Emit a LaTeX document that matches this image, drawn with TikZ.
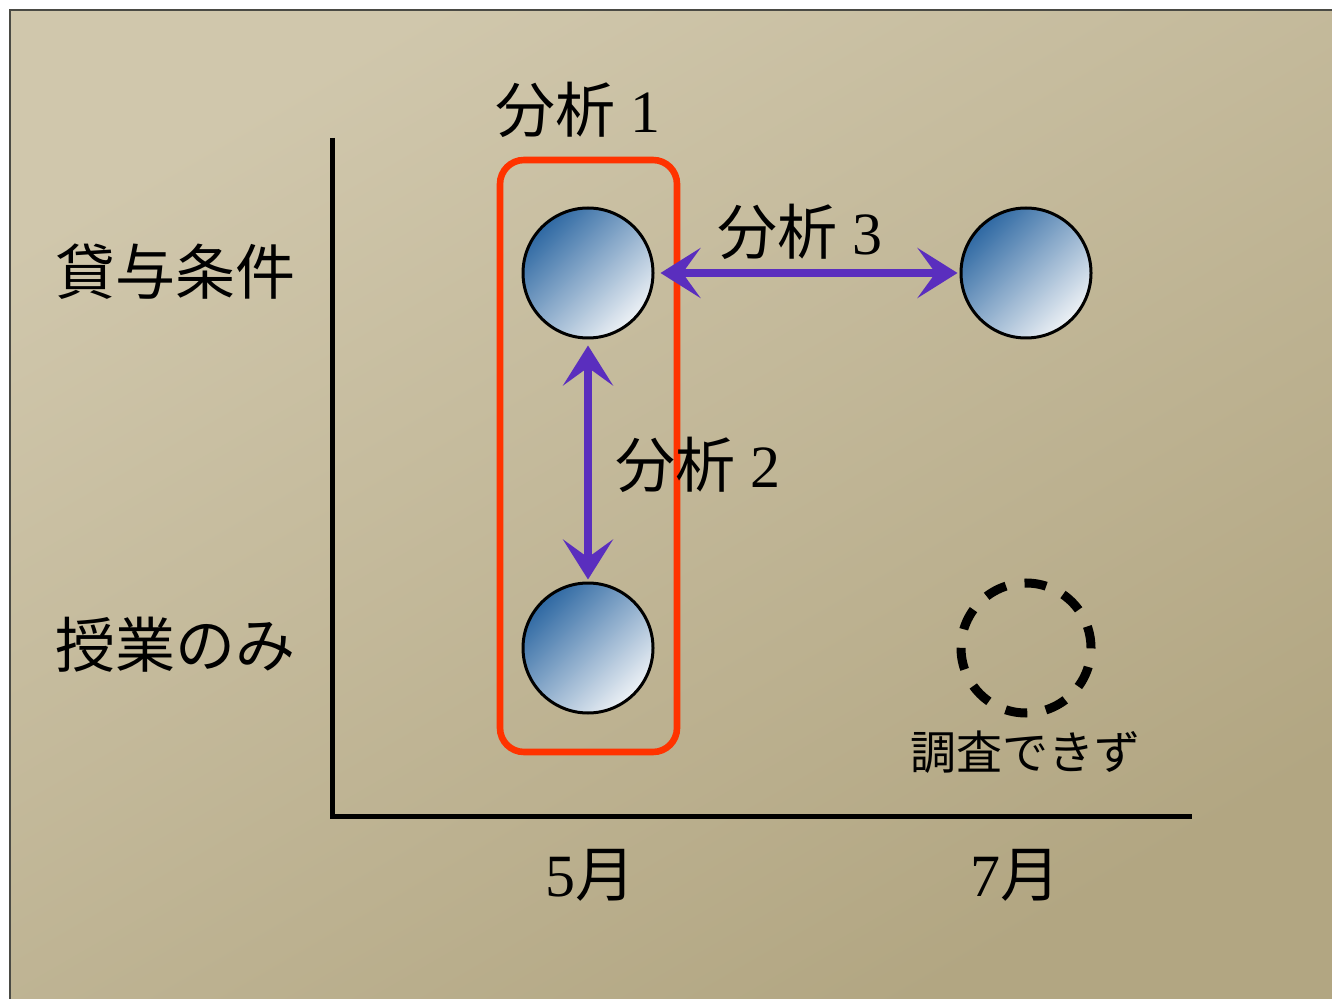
\documentclass[tikz,border=0pt]{standalone}
\usepackage{fontspec}
\setmainfont{Liberation Serif}
\newfontfamily\jp{Noto Sans CJK JP}
\usetikzlibrary{arrows.meta}
\definecolor{bgtop}{HTML}{D0C7AC}
\definecolor{bgbot}{HTML}{B2A682}
\definecolor{balldark}{HTML}{2F69A3}
\definecolor{balllight}{HTML}{EDF1F5}
\definecolor{crayonred}{HTML}{FF3300}
\definecolor{crayonpurple}{HTML}{5A2EBE}
\definecolor{framegray}{HTML}{4A4A44}
\tikzset{
  ball/.style={circle, draw=black, line width=1.5pt, minimum size=65pt, inner sep=0pt,
    top color=balldark, bottom color=balllight, shading angle=45},
  missing/.style={circle, draw=black, line width=4.5pt, minimum size=65pt, inner sep=0pt,
    dash pattern=on 11pt off 9.4pt},
  axis/.style={line width=2.5pt, black},
  groupbox/.style={draw=crayonred, line width=3.3pt, rounded corners=12pt},
  link/.style={draw=crayonpurple, line width=3.6pt,
    {Stealth[length=20pt, width=25pt, inset=9pt]}-{Stealth[length=20pt, width=25pt, inset=9pt]}},
  lab/.style={font=\fontsize{30pt}{34pt}\selectfont, text=black, inner sep=0pt},
  sublab/.style={font=\fontsize{23pt}{27pt}\selectfont, text=black, inner sep=0pt}
}
\begin{document}
\begin{tikzpicture}[x=0.5pt, y=-0.5pt]
\useasboundingbox (0,0) rectangle (1332,999);
\fill[white] (0,0) rectangle (1332,999);
\shade[top color=bgtop, bottom color=bgbot, shading angle=30] (10,10) rectangle (1332,999);
\draw[framegray, line width=1pt] (10,999) -- (10,10) -- (1332,10);
% axes
\coordinate (ytop) at (332,138);
\coordinate (origin) at (332,816);
\coordinate (xend) at (1192,816);
\draw[axis] (ytop) -- (origin) -- (xend);
% group box
\draw[groupbox] (500,160) rectangle (677,752);
% circles
\node[ball] (m5a) at (588,273) {};
\node[ball] (m5b) at (588,648) {};
\node[ball] (m7a) at (1026,273) {};
\node[missing] (m7b) at (1026,648) {};
% arrows
\draw[link, shorten <=3pt, shorten >=1pt] (m5a) -- (m7a);
\draw[link, shorten <=3pt, shorten >=1pt] (m5a) -- (m5b);
% labels
\node[lab] (l1) at (578,110) {{\jp 分析} 1};
\node[lab] (l3) at (800,232) {{\jp 分析} 3};
\node[lab] (l2) at (698,465) {{\jp 分析} 2};
\node[lab] (r1) at (175,272) {\jp 貸与条件};
\node[lab] (r2) at (175,645) {\jp 授業のみ};
\node[sublab] (nd) at (1025,752) {\jp 調査できず};
\node[lab] (x5) at (590,875) {5{\jp 月}};
\node[lab] (x7) at (1015,875) {7{\jp 月}};
\end{tikzpicture}
\end{document}
